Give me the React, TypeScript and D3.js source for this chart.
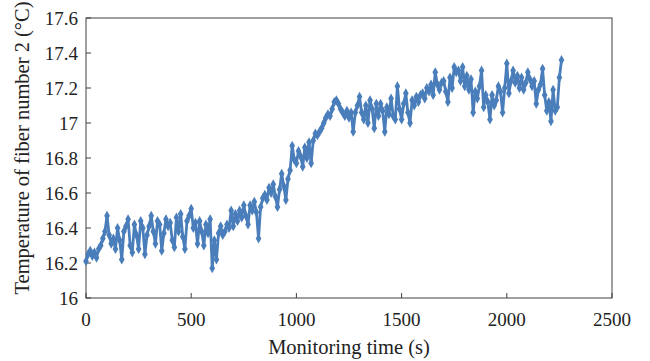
import * as d3 from 'd3';

// sample time step (s) and temperatures, 10 s apart from t = 0
const STEP = 10;
const TEMPS: number[] = [
  16.21, 16.25, 16.27, 16.24, 16.26, 16.23, 16.28, 16.30, 16.34, 16.38,
  16.47, 16.36, 16.31, 16.34, 16.28, 16.40, 16.33, 16.22, 16.38, 16.41,
  16.45, 16.30, 16.26, 16.42, 16.36, 16.28, 16.44, 16.40, 16.25, 16.36,
  16.41, 16.47, 16.38, 16.31, 16.44, 16.42, 16.27, 16.37, 16.45, 16.41,
  16.43, 16.33, 16.29, 16.46, 16.38, 16.48, 16.35, 16.28, 16.44, 16.47,
  16.51, 16.40, 16.43, 16.31, 16.44, 16.38, 16.30, 16.42, 16.37, 16.45,
  16.17, 16.33, 16.22, 16.37, 16.41, 16.36, 16.38, 16.42, 16.40, 16.50,
  16.41, 16.48, 16.44, 16.50, 16.46, 16.53, 16.47, 16.42, 16.53, 16.50,
  16.55, 16.49, 16.34, 16.52, 16.57, 16.59, 16.56, 16.63, 16.60, 16.65,
  16.58, 16.52, 16.62, 16.71, 16.64, 16.56, 16.68, 16.73, 16.87, 16.79,
  16.77, 16.84, 16.81, 16.75, 16.86, 16.80, 16.89, 16.77, 16.90, 16.94,
  16.93, 16.95, 16.97, 17.00, 17.03, 17.05, 17.04, 17.08, 17.12, 17.13,
  17.11, 17.08, 17.06, 17.04, 17.07, 17.03, 17.06, 16.95, 17.06, 17.10,
  17.15, 17.06, 17.02, 17.10, 17.00, 17.13, 17.08, 16.97, 17.11, 17.04,
  17.11, 17.07, 16.95, 17.09, 17.05, 17.14, 17.04, 17.02, 17.21, 17.08,
  17.02, 17.11, 17.17, 17.06, 17.00, 17.13, 17.10, 17.15, 17.12, 17.16,
  17.17, 17.14, 17.20, 17.18, 17.22, 17.16, 17.29, 17.22, 17.19, 17.23,
  17.24, 17.18, 17.12, 17.26, 17.20, 17.32, 17.29, 17.30, 17.24, 17.32,
  17.21, 17.27, 17.19, 17.25, 17.06, 17.18, 17.14, 17.21, 17.30, 17.09,
  17.16, 17.12, 17.02, 17.16, 17.10, 17.13, 17.21, 17.18, 17.06, 17.20,
  17.34, 17.17, 17.24, 17.30, 17.23, 17.27, 17.20, 17.26, 17.19, 17.23,
  17.29, 17.25, 17.21, 17.24, 17.11, 17.19, 17.22, 17.31, 17.16, 17.07,
  17.12, 17.01, 17.19, 17.07, 17.09, 17.26, 17.36,
];

const X_TICKS = [0, 500, 1000, 1500, 2000, 2500];
const Y_TICKS = [16, 16.2, 16.4, 16.6, 16.8, 17, 17.2, 17.4, 17.6];

const W = 650;
const H = 361;
const margin = { top: 18, right: 38, bottom: 63, left: 86 };
const FONT = '"Liberation Serif", "DejaVu Serif", serif';
const BLUE = '#4a7ebb';

export default function App() {
  const innerW = W - margin.left - margin.right;
  const innerH = H - margin.top - margin.bottom;

  const x = d3.scaleLinear().domain([0, 2500]).range([0, innerW]);
  const y = d3.scaleLinear().domain([16, 17.6]).range([innerH, 0]);

  const points = TEMPS.map((v, i) => ({ t: i * STEP, v }));
  const line = d3.line<{ t: number; v: number }>().x(d => x(d.t)).y(d => y(d.v));
  const diamond = d3.symbol().type(d3.symbolDiamond).size(28)() ?? '';

  return (
    <div style={{ position: 'fixed', left: 0, top: 0 }}>
      <svg width={W} height={H} style={{ background: '#fff', display: 'block' }}>
        <g transform={`translate(${margin.left},${margin.top})`}>
          {/* frame */}
          <rect x={0} y={0} width={innerW} height={innerH} fill="none" stroke="#404040" strokeWidth={1} />

          {/* y ticks */}
          {Y_TICKS.map(t => (
            <g key={t}>
              <line x1={0} x2={5} y1={y(t)} y2={y(t)} stroke="#404040" />
              <text
                x={-8} y={y(t)} textAnchor="end" dominantBaseline="central"
                fontSize={19} fontFamily={FONT} fill="#222"
              >
                {d3.format('~g')(t)}
              </text>
            </g>
          ))}

          {/* x ticks */}
          {X_TICKS.map(t => (
            <g key={t}>
              <line x1={x(t)} x2={x(t)} y1={innerH} y2={innerH - 5} stroke="#404040" />
              <text
                x={x(t)} y={innerH + 28} textAnchor="middle"
                fontSize={19} fontFamily={FONT} fill="#222"
              >
                {t}
              </text>
            </g>
          ))}

          {/* series */}
          <path d={line(points) ?? ''} fill="none" stroke={BLUE} strokeWidth={2.8} strokeLinejoin="round" />
          {points.map(p => (
            <path key={p.t} d={diamond} transform={`translate(${x(p.t)},${y(p.v)})`} fill={BLUE} />
          ))}

          {/* axis titles */}
          <text
            x={innerW / 2} y={innerH + 56} textAnchor="middle"
            fontSize={20.5} fontFamily={FONT} fill="#222"
          >
            Monitoring time (s)
          </text>
          <text
            transform={`translate(${-64},${148 - margin.top}) rotate(-90)`}
            textAnchor="middle" dominantBaseline="central" fontSize={20.5} fontFamily={FONT} fill="#222"
          >
            Temperature of fiber number 2 (°C)
          </text>
        </g>
      </svg>
    </div>
  );
}
